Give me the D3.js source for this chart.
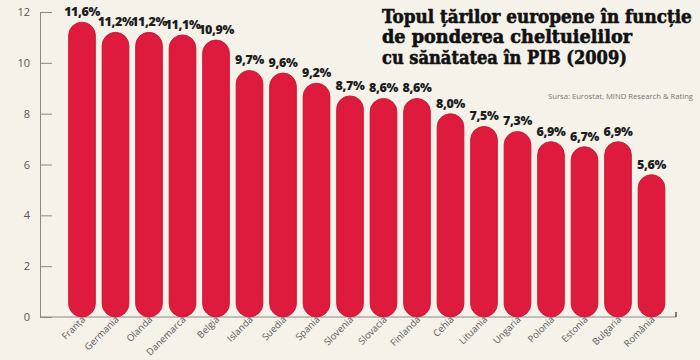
<!DOCTYPE html>
<html><head><meta charset="utf-8">
<script src="https://cdn.jsdelivr.net/npm/d3@7"></script>
<style>
html,body{margin:0;padding:0;background:#f5f2ea;}
svg{display:block;}
</style></head>
<body>
<script>
const countries = ["Franța","Germania","Olanda","Danemarca","Belgia","Islanda","Suedia","Spania","Slovenia","Slovacia","Finlanda","Cehia","Lituania","Ungaria","Polonia","Estonia","Bulgaria","România"];
const values = [11.6,11.2,11.2,11.1,10.9,9.7,9.6,9.2,8.7,8.6,8.6,8.0,7.5,7.3,6.9,6.7,6.9,5.6];
const yTicks = [0,2,4,6,8,10,12];
const titleLines = ["Topul țărilor europene în funcție","de ponderea cheltuielilor","cu sănătatea în PIB (2009)"];
const sourceText = "Sursa: Eurostat, MIND Research & Rating";

const W = 700, H = 360;
const svg = d3.select("body").append("svg").attr("width", W).attr("height", H);
svg.append("rect").attr("width", W).attr("height", H).attr("fill", "#f5f2ea");

const y = d3.scaleLinear().domain([0,12]).range([317,12]);
const x = d3.scaleBand().domain(countries).range([65.25,668.25]).paddingInner(0.2).paddingOuter(0.1);

// y axis
const yAxis = d3.axisLeft(y).tickValues(yTicks).tickSize(-12).tickPadding(10).tickFormat(d3.format("d"));
const gy = svg.append("g").attr("transform","translate(40,0)").call(yAxis);
gy.select(".domain").attr("stroke","#8a8a80");
gy.selectAll(".tick line").attr("stroke","#8a8a80");
gy.selectAll(".tick text").attr("fill","#555").attr("font-family","'Open Sans',sans-serif").attr("font-size",11);

// baseline
svg.append("line").attr("x1",40).attr("x2",676).attr("y1",y(0)).attr("y2",y(0)).attr("stroke","#8a8a80");
svg.append("line").attr("x1",676).attr("x2",676).attr("y1",y(0)-5).attr("y2",y(0)).attr("stroke","#555").attr("stroke-width",1.5);

// bars (pill shape)
const bw = x.bandwidth();
svg.append("g").selectAll("rect").data(values).join("rect")
  .attr("x",(d,i)=>x(countries[i]))
  .attr("y",d=>y(d))
  .attr("width",bw)
  .attr("height",d=>y(0)-y(d))
  .attr("rx",bw/2).attr("ry",bw/2)
  .attr("fill","#de1a3d")
  .attr("stroke","#c4112f").attr("stroke-width",0.8);

// value labels
svg.append("g").selectAll("text").data(values).join("text")
  .attr("x",(d,i)=>x(countries[i])+bw/2)
  .attr("y",d=>y(d)-6)
  .attr("text-anchor","middle")
  .attr("font-family","'Open Sans',sans-serif").attr("font-weight",800)
  .attr("font-size",12.5).attr("fill","#1e1e1e")
  .attr("letter-spacing",-0.4)
  .text(d=>d.toFixed(1).replace(".",",")+"%");

// x labels
svg.append("g").selectAll("text").data(countries).join("text")
  .attr("transform",d=>`translate(${x(d)+bw/2+4},${y(0)+3}) rotate(-45)`)
  .attr("text-anchor","end")
  .attr("font-family","'Open Sans',sans-serif")
  .attr("font-size",9.5).attr("fill","#5a5a5a")
  .text(d=>d);

// title (horizontally condensed to the reference widths)
const tw = [310,250,245];
const baselines = [23,43,64];
svg.append("g").selectAll("text").data(titleLines).join("text")
  .attr("font-family","'DejaVu Serif',serif").attr("font-weight",700)
  .attr("font-size",18.5).attr("fill","#111")
  .attr("stroke","#111").attr("stroke-width",0.6)
  .text(d=>d)
  .each(function(d,i){
    const nat = this.getComputedTextLength();
    const s = tw[i]/nat;
    d3.select(this).attr("transform",`translate(382,${baselines[i]}) scale(${s},1)`);
  });

svg.append("text").attr("x",548).attr("y",99)
  .attr("font-family","'Open Sans',sans-serif").attr("font-size",7.5).attr("fill","#777")
  .attr("textLength",145).attr("lengthAdjust","spacingAndGlyphs")
  .text(sourceText);
</script>
</body></html>
